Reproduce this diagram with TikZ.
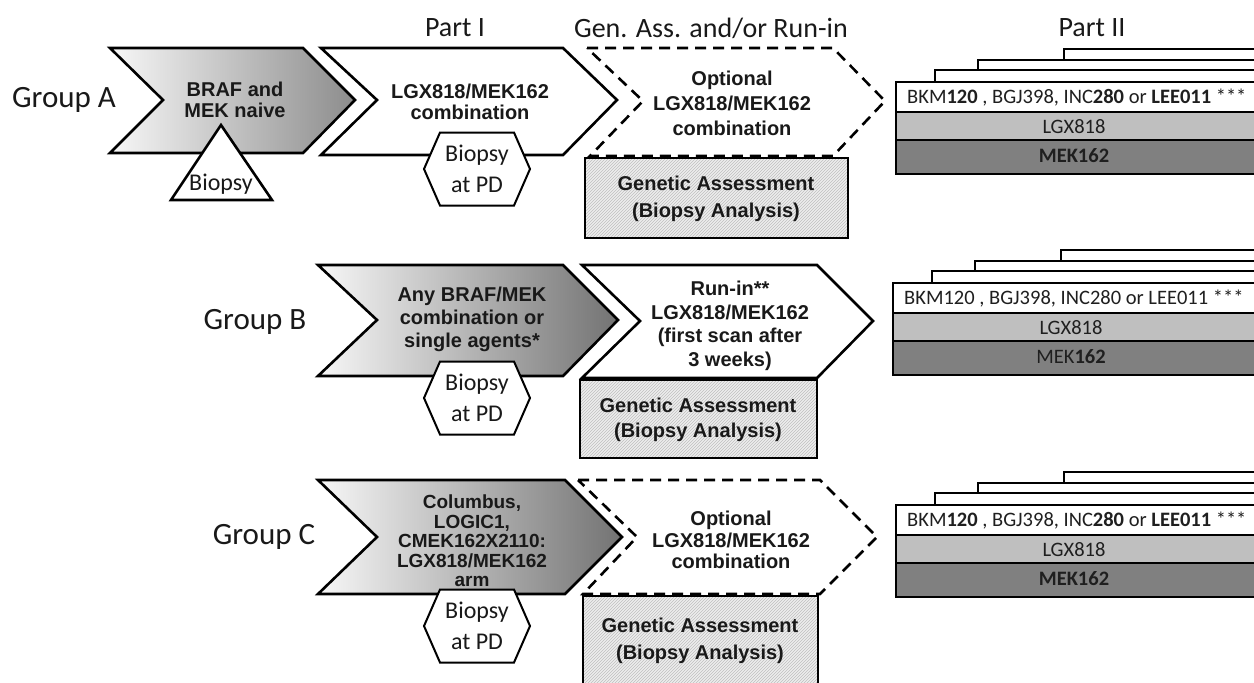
\documentclass[tikz,border=0pt]{standalone}
\usepackage{fontspec}
\setmainfont{Carlito}
\newfontfamily\arialf{Liberation Sans}
\usetikzlibrary{patterns}
\newcommand\stackrows[4]{%
  % #1 shift, #2 white-row text, #3 LGX text, #4 MEK text
  \begin{scope}[shift={#1}]
    \draw[lay, fill=white] (168,-33) rectangle (420,0);
    \draw[lay, fill=white] (82,-22) rectangle (420,0);
    \draw[lay, fill=white] (39,-12) rectangle (420,0);
    \draw[lay, fill=white] (0,0) rectangle (420,30);
    \draw[lay, fill=black!25] (0,30) rectangle (420,58);
    \draw[lay, fill=black!50] (0,58) rectangle (420,92);
    \node[stxt, anchor=west] at (11,16) {#2};
    \node[stxt] at (178,45) {#3};
    \node[stxt] at (178,74) {#4};
  \end{scope}}
\newcommand\hexpd[2]{%
  \draw[hexs, shift={#1}] (-53,0) -- (-37,-36.5) -- (37,-36.5) -- (53,0) -- (37,36.5) -- (-37,36.5) -- cycle;
  \node[htxt] (#2) at #1 {Biopsy\\at PD};}
\begin{document}
\begin{tikzpicture}[x=1pt,y=-1pt,
  shp/.style={draw=black, line width=2.6pt, line join=miter},
  grad/.style={shp, left color=black!3, right color=black!45},
  gradb/.style={shp, left color=black!3, right color=black!55},
  dsh/.style={draw=black, line width=2.6pt, dash pattern=on 11pt off 7pt, fill=white},
  gen/.style={draw=black, line width=2.6pt, preaction={fill=black!7}, pattern=north east lines, pattern color=black!25},
  hexs/.style={draw=black, line width=2pt, fill=white},
  lay/.style={draw=black, line width=2.5pt},
  ctext/.style={font=\arialf\bfseries\fontsize{20}{21.5}\selectfont, align=center, inner sep=0pt, text=black!90},
  gtext/.style={font=\arialf\bfseries\fontsize{20}{27}\selectfont, align=center, inner sep=0pt, text=black!90},
  htxt/.style={font=\fontsize{24}{31}\selectfont, align=center, inner sep=0pt, text=black!90},
  grp/.style={font=\fontsize{31}{33}\selectfont, inner sep=0pt, text=black!90},
  hdr/.style={font=\fontsize{28}{30}\selectfont, inner sep=0pt, text=black!90},
  stxt/.style={font=\fontsize{20.5}{22}\selectfont, inner sep=0pt, text=black!88}
]
\useasboundingbox (0,0) rectangle (1254,683);
\clip (0,0) rectangle (1254,683);

% headers
\node[hdr] (h1) at (455,28) {Part I};
\node[hdr] (h2) at (711,28) {Gen. Ass. and/or Run-in};
\node[hdr] (h3) at (1092,28) {Part II};

% ---------------- Group A ----------------
\node[grp] (gA) at (64,100) {Group A};
\draw[grad] (110,48) -- (303,48) -- (355,100) -- (303,153) -- (110,153) -- (163,100) -- cycle;
\node[ctext] (a1) at (235,100) {BRAF and\\MEK naive};
\draw[shp, fill=white] (221,125) -- (272,200) -- (171,200) -- cycle;
\node[htxt] (tri) at (221,184) {Biopsy};
\draw[shp, fill=white] (321,48) -- (563,48) -- (617,100) -- (563,155) -- (321,155) -- (377,100) -- cycle;
\node[ctext] (a2) at (470,102) {LGX818/MEK162\\combination};
\hexpd{(477,169)}{hA}
\draw[dsh] (587,48) -- (833,48) -- (885,101) -- (833,156) -- (590,156) -- (643,101) -- cycle;
\node[ctext, font=\arialf\bfseries\fontsize{20}{25}\selectfont] (a3) at (732,103) {Optional\\LGX818/MEK162\\combination};
\draw[gen] (585,158) rectangle (848,238);
\node[gtext] (gaA) at (716,199) {Genetic Assessment\\(Biopsy Analysis)};
\stackrows{(896,82)}{BKM\textbf{120} , BGJ398, INC\textbf{280} or \textbf{LEE011} ***}{LGX818}{\textbf{MEK162}}

% ---------------- Group B ----------------
\node[grp] (gB) at (255,322) {Group B};
\draw[gradb] (318,265) -- (563,265) -- (618,320) -- (563,376) -- (318,376) -- (377,320) -- cycle;
\node[ctext, font=\arialf\bfseries\fontsize{20}{23}\selectfont] (b1) at (472,319) {Any BRAF/MEK\\combination or\\single agents*};
\hexpd{(477,398)}{hB}
\draw[shp, fill=white] (582,265) -- (817,265) -- (873,321) -- (817,378) -- (582,378) -- (640,321) -- cycle;
\node[ctext, font=\arialf\bfseries\fontsize{20}{23.5}\selectfont] (b2) at (730,326) {Run-in**\\LGX818/MEK162\\(first scan after\\3 weeks)};
\draw[gen] (580,380) rectangle (817,458);
\node[gtext, font=\arialf\bfseries\fontsize{20}{25}\selectfont] (gaB) at (698,420) {Genetic Assessment\\(Biopsy Analysis)};
\stackrows{(893,283)}{BKM120 , BGJ398, INC280 or LEE011 ***}{LGX818}{MEK\textbf{162}}

% ---------------- Group C ----------------
\node[grp] (gC) at (264,537) {Group C};
\draw[gradb] (318,480) -- (565,480) -- (622,537) -- (565,594) -- (318,594) -- (377,537) -- cycle;
\node[ctext, font=\arialf\bfseries\fontsize{19}{19.5}\selectfont] (c1) at (472,541) {Columbus,\\LOGIC1,\\CMEK162X2110:\\LGX818/MEK162\\arm};
\hexpd{(477,626)}{hC}
\draw[dsh] (578,480) -- (820,480) -- (877,537) -- (820,594) -- (583,594) -- (637,537) -- cycle;
\node[ctext] (c2) at (731,540) {Optional\\LGX818/MEK162\\combination};
\draw[gen] (583,596) rectangle (818,700);
\node[gtext] (gaC) at (700,641) {Genetic Assessment\\(Biopsy Analysis)};
\stackrows{(896,505)}{BKM\textbf{120} , BGJ398, INC\textbf{280} or \textbf{LEE011} ***}{LGX818}{\textbf{MEK162}}
\end{tikzpicture}
\end{document}
